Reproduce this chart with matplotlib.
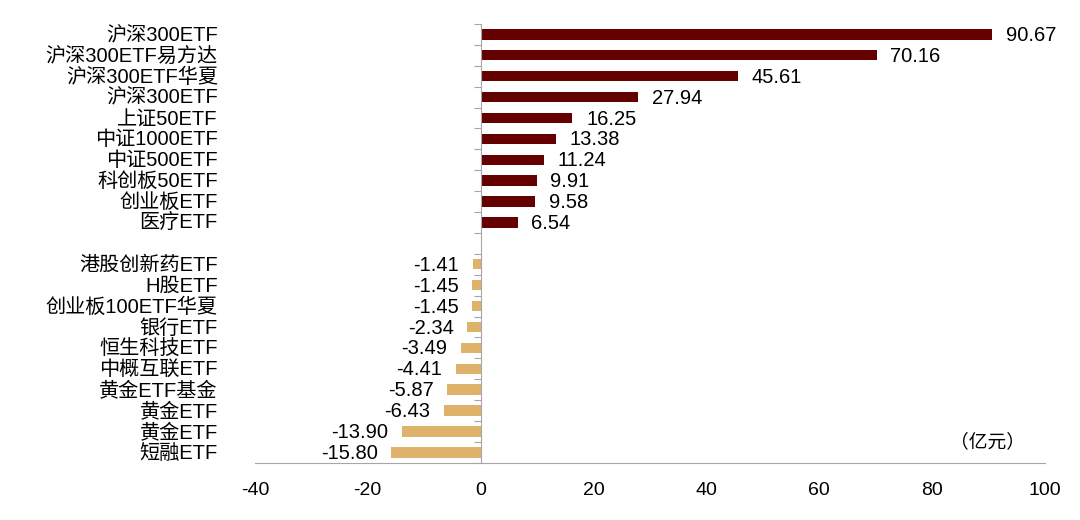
import numpy as np
import matplotlib.pyplot as plt
import matplotlib.transforms as mtransforms

plt.rcParams['font.family'] = ['Liberation Sans', 'Noto Sans CJK SC', 'DejaVu Sans']

# data (top to bottom)
pos_names = ['沪深300ETF', '沪深300ETF易方达', '沪深300ETF华夏', '沪深300ETF', '上证50ETF',
             '中证1000ETF', '中证500ETF', '科创板50ETF', '创业板ETF', '医疗ETF']
pos_values = [90.67, 70.16, 45.61, 27.94, 16.25, 13.38, 11.24, 9.91, 9.58, 6.54]
neg_names = ['港股创新药ETF', 'H股ETF', '创业板100ETF华夏', '银行ETF', '恒生科技ETF',
             '中概互联ETF', '黄金ETF基金', '黄金ETF', '黄金ETF', '短融ETF']
neg_values = [-1.41, -1.45, -1.45, -2.34, -3.49, -4.41, -5.87, -6.43, -13.90, -15.80]
x_ticks = [-40, -20, 0, 20, 40, 60, 80, 100]
unit = '（亿元）'

pos_color = '#640000'
neg_color = '#DFB26C'

# slot positions: 10 positives, one empty slot, 10 negatives
pos_y = np.arange(len(pos_values))
neg_y = np.arange(len(neg_values)) + len(pos_values) + 1
n_slots = len(pos_values) + len(neg_values) + 1

fig = plt.figure(figsize=(10.8, 5.2), dpi=100)
ax = fig.add_axes([0.236, 0.110, 0.7315, 0.844])

ax.barh(pos_y, pos_values, height=0.5, color=pos_color)
ax.barh(neg_y, neg_values, height=0.5, color=neg_color)

ax.set_xlim(-40, 100)
ax.set_ylim(n_slots - 0.5, -0.5)
ax.set_xticks(x_ticks)
ax.set_xticklabels([str(t) for t in x_ticks], fontsize=14)
ax.tick_params(axis='x', length=0, pad=14)

# y axis drawn at x=0 with ticks on slot boundaries
ax.spines['left'].set_position(('data', 0))
ax.spines['left'].set_color('#A6A6A6')
ax.spines['bottom'].set_color('#A6A6A6')
ax.spines['top'].set_visible(False)
ax.spines['right'].set_visible(False)
ax.set_yticks(np.arange(n_slots + 1) - 0.5)
ax.set_yticklabels([])
ax.tick_params(axis='y', length=5, color='#A6A6A6', direction='out')

trans = mtransforms.blended_transform_factory(ax.transAxes, ax.transData)
for y, name in zip(list(pos_y) + list(neg_y), pos_names + neg_names):
    ax.text(-0.047, y + 0.05, name, transform=trans, ha='right', va='center', fontsize=14.5)

for y, v in zip(pos_y, pos_values):
    ax.annotate(f'{v:.2f}', (v, y + 0.05), xytext=(10, 0), textcoords='offset points',
                ha='left', va='center', fontsize=14.5)
for y, v in zip(neg_y, neg_values):
    ax.annotate(f'{v:.2f}', (v, y + 0.05), xytext=(-10, 0), textcoords='offset points',
                ha='right', va='center', fontsize=14.5)

fig.text(1025 / 1080, 1 - 442 / 520, unit, ha='right', va='center', fontsize=13.5)

fig.savefig('out.png', dpi=100)
